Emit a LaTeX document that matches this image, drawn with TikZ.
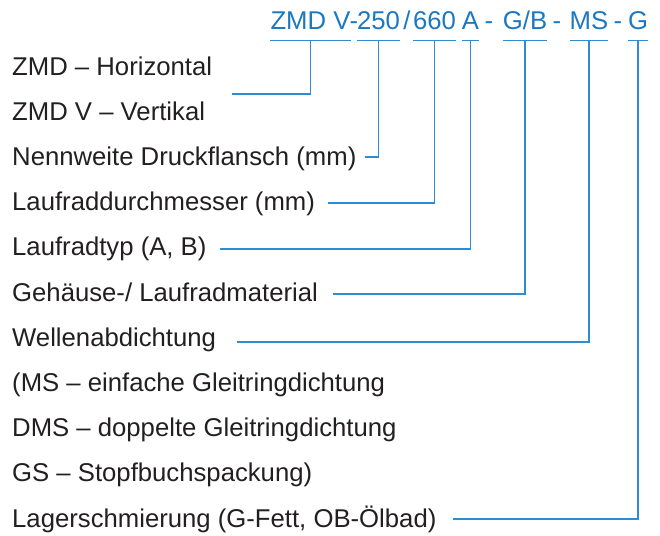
\documentclass[tikz,border=0pt]{standalone}
\usepackage{fontspec}
\setmainfont{Liberation Sans}
\definecolor{txt}{HTML}{231F20}
\definecolor{codeblue}{HTML}{1B78C2}
\definecolor{lineblue}{HTML}{2E8DD2}
\begin{document}
\begin{tikzpicture}[x=1pt,y=-1pt,
  lab/.style={anchor=base west,inner sep=0pt,text=txt,font=\fontsize{25.7}{30}\selectfont},
  code/.style={anchor=base,inner sep=0pt,text=codeblue,text depth=0pt,font=\fontsize{25.7}{30}\selectfont},
  conn/.style={draw=lineblue,line width=1.3pt},
  uline/.style={draw=lineblue,line width=1.3pt}]
\useasboundingbox (0,0) rectangle (660,535);
% code parts
\node[code] (c1) at (310.5,30) {ZMD V};
\node[code] (s1) at (354,30) {-};
\node[code] (c2) at (378.5,30) {250};
\node[code] (s2) at (407,30) {/};
\node[code] (c3) at (434.5,30) {660};
\node[code] (c4) at (470.5,30) {A};
\node[code] (s3) at (489,30) {-};
\node[code] (c5) at (525,30) {G/B};
\node[code] (s4) at (557,30) {-};
\node[code] (c6) at (589,30) {MS};
\node[code] (s5) at (618,30) {-};
\node[code] (c7) at (638,30) {G};
% underlines
\foreach \c in {c1,c2,c3,c4,c5,c6,c7}
  \draw[uline] ([yshift=-10pt]\c.south west) -- ([yshift=-10pt]\c.south east);
% labels
\node[lab] (l1) at (12,75) {ZMD – Horizontal};
\node[lab] (l2) at (12,120.2) {ZMD V – Vertikal};
\node[lab] (l3) at (12,165.4) {Nennweite Druckflansch (mm)};
\node[lab] (l4) at (12,210.6) {Laufraddurchmesser (mm)};
\node[lab] (l5) at (12,255.8) {Laufradtyp (A, B)};
\node[lab] (l6) at (12,301) {Gehäuse-/ Laufradmaterial};
\node[lab] (l7) at (12,346.2) {Wellenabdichtung};
\node[lab] (l8) at (12,391.4) {(MS – einfache Gleitringdichtung};
\node[lab] (l9) at (12,436.6) {DMS – doppelte Gleitringdichtung};
\node[lab] (l10) at (12,481.8) {GS – Stopfbuchspackung)};
\node[lab] (l11) at (12,527) {Lagerschmierung (G-Fett, OB-Ölbad)};
% connector ends
\coordinate (e1) at (232,94);
\coordinate (e2) at (365,157);
\coordinate (e3) at (328,203);
\coordinate (e4) at (220,249);
\coordinate (e5) at (333,294);
\coordinate (e6) at (237,342);
\coordinate (e7) at (453,519);
% connectors
\draw[conn] ([yshift=-10pt]c1.south) |- (e1);
\draw[conn] ([yshift=-10pt]c2.south) |- (e2);
\draw[conn] ([yshift=-10pt]c3.south) |- (e3);
\draw[conn] ([yshift=-10pt]c4.south) |- (e4);
\draw[conn] ([yshift=-10pt]c5.south) |- (e5);
\draw[conn] ([yshift=-10pt]c6.south) |- (e6);
\draw[conn] ([yshift=-10pt]c7.south) |- (e7);
\end{tikzpicture}
\end{document}
